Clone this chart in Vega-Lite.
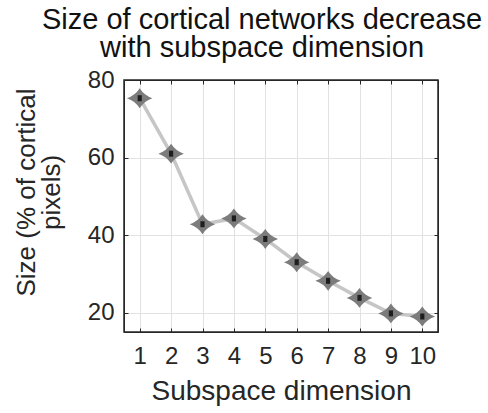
{
  "$schema": "https://vega.github.io/schema/vega-lite/v6.json",
  "autosize": {"type": "none"},
  "padding": {"left": 124, "top": 80, "right": 50, "bottom": 81},
  "width": 314,
  "height": 252,
  "background": "white",
  "config": {
    "font": "Liberation Sans",
    "view": {"stroke": "#262626", "strokeWidth": 1.5},
    "axis": {"labelColor": "#262626", "titleColor": "#262626", "domainColor": "#262626", "tickColor": "#262626"}
  },
  "title": {
    "text": ["Size of cortical networks decrease", "with subspace dimension"],
    "font": "Liberation Sans",
    "fontSize": 29,
    "fontWeight": "normal",
    "color": "#111111",
    "anchor": "middle",
    "baseline": "alphabetic",
    "dx": -19,
    "offset": -18,
    "lineHeight": 28
  },
  "data": {"values": [
    {"dim": 1, "size": 75.3},
    {"dim": 2, "size": 61.0},
    {"dim": 3, "size": 42.8},
    {"dim": 4, "size": 44.3},
    {"dim": 5, "size": 39.0},
    {"dim": 6, "size": 33.0},
    {"dim": 7, "size": 28.2},
    {"dim": 8, "size": 23.8},
    {"dim": 9, "size": 19.8},
    {"dim": 10, "size": 19.0}
  ]},
  "layer": [
    {
      "mark": {"type": "line", "color": "#c6c6c6", "strokeWidth": 3.5},
      "encoding": {
        "x": {"field": "dim", "type": "quantitative",
              "scale": {"domain": [0.5, 10.5], "nice": false, "zero": false},
              "axis": {"orient": "bottom", "values": [1,2,3,4,5,6,7,8,9,10], "grid": true, "gridColor": "#e2e2e2", "gridOpacity": 1,
                       "tickSize": -4, "labelPadding": 16, "labelFontSize": 24, "labelFlush": false, "labelOverlap": false,
                       "title": "Subspace dimension", "titleFontSize": 28, "titleFontWeight": "normal", "titlePadding": 9}},
        "y": {"field": "size", "type": "quantitative",
              "scale": {"domain": [15, 80], "nice": false, "zero": false},
              "axis": {"orient": "left", "values": [20, 40, 60, 80], "grid": true, "gridColor": "#e2e2e2", "gridOpacity": 1,
                       "tickSize": -4, "labelPadding": 14, "labelFontSize": 24, "labelFlush": false,
                       "title": ["Size (% of cortical", "pixels)"], "titleFontSize": 26, "titleFontWeight": "normal", "titlePadding": 23, "titleLineHeight": 25, "titleY": 112}}
      }
    },
    {
      "mark": {"type": "point", "shape": "M -1 0 Q -0.35 -0.22 0 -0.78 Q 0.35 -0.22 1 0 Q 0.35 0.22 0 0.78 Q -0.35 0.22 -1 0 Z", "filled": true, "color": "#7c7c7c", "opacity": 1, "size": 650},
      "encoding": {
        "x": {"field": "dim", "type": "quantitative",
              "axis": {"orient": "top", "values": [1,2,3,4,5,6,7,8,9,10], "grid": false, "labels": false, "title": null, "tickSize": -4}},
        "y": {"field": "size", "type": "quantitative",
              "axis": {"orient": "right", "values": [20, 40, 60, 80], "grid": false, "labels": false, "title": null, "tickSize": -4}}
      }
    },
    {
      "mark": {"type": "point", "shape": "M -0.7 -1 L 0.7 -1 L 0.7 1 L -0.7 1 Z", "filled": true, "color": "#1e1e1e", "opacity": 1, "size": 36},
      "encoding": {
        "x": {"field": "dim", "type": "quantitative", "axis": null},
        "y": {"field": "size", "type": "quantitative", "axis": null}
      }
    }
  ],
  "resolve": {"axis": {"x": "independent", "y": "independent"}}
}
